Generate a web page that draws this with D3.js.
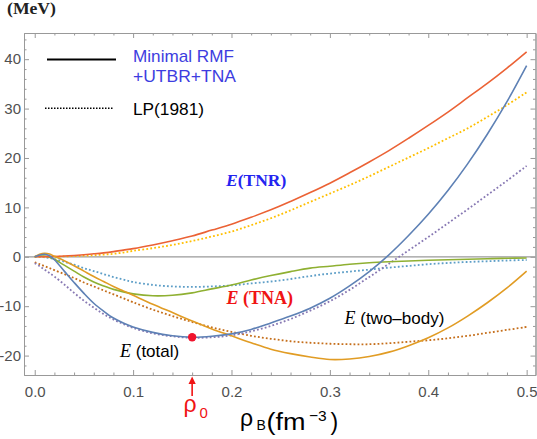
<!DOCTYPE html>
<html>
<head>
<meta charset="utf-8">
<script src="https://cdn.jsdelivr.net/npm/d3@7"></script>
<style>
  body { margin: 0; background: #fff; }
  svg { display: block; }
</style>
</head>
<body>
<svg id="chart" width="537" height="439"></svg>
<script>
// density grid (fm^-3), shared by every curve
const rho = [0, 0.005, 0.01, 0.015, 0.02, 0.03, 0.04, 0.05, 0.06, 0.07, 0.08, 0.09, 0.10,
  0.12, 0.14, 0.16, 0.18, 0.20, 0.22, 0.24, 0.26, 0.28, 0.30, 0.32, 0.34, 0.36, 0.38,
  0.40, 0.42, 0.44, 0.46, 0.48, 0.50];

// Minimal RMF + UTBR + TNA (solid)
const eTotal = [0, 0.35, 0.5, 0.2, -0.6, -2.9, -5.2, -7.4, -9.4, -11.0, -12.4, -13.4, -14.2,
  -15.3, -16.0, -16.3, -16.1, -15.6, -14.7, -13.4, -12.0, -10.4, -8.4, -5.9, -3.0, 0.4, 4.3,
  8.6, 13.4, 18.8, 24.8, 31.4, 38.7];
const eTwoBody = [0, 0.5, 0.7, 0.55, 0.1, -0.8, -1.8, -2.9, -4.0, -5.0, -6.0, -6.9, -7.8,
  -9.6, -11.3, -13.0, -14.6, -16.0, -17.4, -18.7, -19.6, -20.3, -20.8, -20.7, -20.2, -19.3, -18.0,
  -16.4, -14.4, -12.0, -9.3, -6.3, -2.9];
const eTNA = [0, 0.15, 0.15, -0.1, -0.5, -1.7, -2.9, -4.1, -5.1, -5.9, -6.6, -7.1, -7.5,
  -7.9, -7.8, -7.3, -6.5, -5.7, -4.7, -3.8, -3.0, -2.3, -1.9, -1.5, -1.2, -1.0, -0.85,
  -0.7, -0.6, -0.5, -0.4, -0.3, -0.25];
const eTNR = [0, 0, 0.02, 0.04, 0.07, 0.15, 0.27, 0.42, 0.6, 0.8, 1.05, 1.35, 1.65,
  2.4, 3.25, 4.2, 5.4, 6.6, 8.0, 9.5, 11.2, 13.0, 14.9, 17.0, 19.2, 21.5, 24.0,
  26.6, 29.3, 32.2, 35.1, 38.2, 41.5];

// LP (1981) (dotted)
const lpTotal = [-1.3, -1.9, -2.6, -3.3, -4.0, -5.6, -7.3, -8.9, -10.3, -11.6, -12.7, -13.6, -14.4,
  -15.5, -16.1, -16.4, -16.3, -15.9, -15.1, -14.0, -12.6, -10.9, -9.0, -6.7, -4.1, -1.4, 1.3,
  4.0, 6.8, 9.6, 12.5, 15.4, 18.4];
const lpTwoBody = [-1.1, -1.5, -1.9, -2.3, -2.7, -3.5, -4.3, -5.2, -6.0, -6.8, -7.6, -8.4, -9.2,
  -10.7, -12.0, -13.2, -14.3, -15.2, -16.0, -16.6, -17.1, -17.4, -17.6, -17.7, -17.7, -17.5, -17.2,
  -16.9, -16.5, -16.0, -15.4, -14.8, -14.2];
const lpTNA = [0, 0, -0.1, -0.25, -0.45, -1.0, -1.6, -2.3, -2.9, -3.5, -4.1, -4.6, -5.1,
  -5.7, -6.0, -6.1, -6.0, -5.8, -5.4, -5.0, -4.5, -3.9, -3.4, -3.0, -2.6, -2.2, -1.85,
  -1.5, -1.25, -1.05, -0.9, -0.75, -0.65];
const lpTNR = [0, 0, 0.01, 0.02, 0.03, 0.08, 0.14, 0.22, 0.32, 0.45, 0.6, 0.85, 1.2,
  1.75, 2.4, 3.2, 4.1, 5.1, 6.4, 7.8, 9.4, 11.1, 12.8, 14.5, 16.3, 18.2, 20.1,
  22.0, 24.0, 26.0, 28.3, 30.7, 33.3];

const xMajor = [0, 0.1, 0.2, 0.3, 0.4, 0.5];
const yMajor = [-20, -10, 0, 10, 20, 30, 40];
const rho0 = 0.16, eSat = -16.3;

const series = [
  { values: lpTNA, color: "#5D9EC7", dotted: true },
  { values: lpTNR, color: "#FFBF00", dotted: true },
  { values: lpTwoBody, color: "#C56E1A", dotted: true },
  { values: lpTotal, color: "#8778B3", dotted: true },
  { values: eTNA, color: "#8FB032", dotted: false },
  { values: eTNR, color: "#EB6235", dotted: false },
  { values: eTwoBody, color: "#E19C24", dotted: false },
  { values: eTotal, color: "#5E81B5", dotted: false }
];

const svg = d3.select("#chart");
const frameL = 24, frameR = 535.5, frameT = 33, frameB = 375;

const x = d3.scaleLinear().domain([-0.0109, 0.509]).range([frameL, frameR]);
const y = d3.scaleLinear().domain([-23.93, 45.3]).range([frameB, frameT]);

const xMinor = d3.range(0, 0.501, 0.02).filter(v => Math.abs(v * 10 - Math.round(v * 10)) > 1e-6);
const yMinor = d3.range(-22, 45, 2).filter(v => v % 10 !== 0);

const frameColor = "#999";
const labelFont = "'Liberation Sans', Arial, sans-serif";
const serif = "'Liberation Serif', 'Times New Roman', serif";

function styleAxis(g) {
  g.select(".domain").attr("stroke", frameColor);
  g.selectAll(".tick line").attr("stroke", frameColor);
  g.selectAll(".tick text").attr("fill", "#505050").style("font-size", "15px").style("font-family", labelFont);
}

// frame axes: major + minor ticks on all four sides, pointing inward
svg.append("g").attr("transform", `translate(0,${frameB})`)
  .call(d3.axisBottom(x).tickValues(xMinor).tickSize(-2.5).tickSizeOuter(0).tickFormat(""))
  .call(styleAxis);
svg.append("g").attr("transform", `translate(0,${frameB})`)
  .call(d3.axisBottom(x).tickValues(xMajor).tickSize(-5).tickSizeOuter(0).tickPadding(11).tickFormat(d3.format(".1f")))
  .call(styleAxis);
svg.append("g").attr("transform", `translate(0,${frameT})`)
  .call(d3.axisTop(x).tickValues(xMinor).tickSize(-2.5).tickSizeOuter(0).tickFormat(""))
  .call(styleAxis);
svg.append("g").attr("transform", `translate(0,${frameT})`)
  .call(d3.axisTop(x).tickValues(xMajor).tickSize(-5).tickSizeOuter(0).tickFormat(""))
  .call(styleAxis);
svg.append("g").attr("transform", `translate(${frameL},0)`)
  .call(d3.axisLeft(y).tickValues(yMinor).tickSize(-2.5).tickSizeOuter(0).tickFormat(""))
  .call(styleAxis);
svg.append("g").attr("transform", `translate(${frameL},0)`)
  .call(d3.axisLeft(y).tickValues(yMajor).tickSize(-5).tickSizeOuter(0).tickPadding(3).tickFormat(d => String(d)))
  .call(styleAxis);
svg.append("g").attr("transform", `translate(${frameR},0)`)
  .call(d3.axisRight(y).tickValues(yMinor).tickSize(-2.5).tickSizeOuter(0).tickFormat(""))
  .call(styleAxis);
svg.append("g").attr("transform", `translate(${frameR},0)`)
  .call(d3.axisRight(y).tickValues(yMajor).tickSize(-5).tickSizeOuter(0).tickFormat(""))
  .call(styleAxis);

// zero line
svg.append("line")
  .attr("x1", frameL).attr("x2", frameR)
  .attr("y1", y(0)).attr("y2", y(0))
  .attr("stroke", "#9a9a9a").attr("stroke-width", 1.3);

const line = d3.line()
  .x((d, i) => x(rho[i]))
  .y(d => y(d))
  .curve(d3.curveCatmullRom.alpha(0.5));

svg.append("g").selectAll("path")
  .data(series)
  .join("path")
  .attr("d", d => line(d.values))
  .attr("fill", "none")
  .attr("stroke", d => d.color)
  .attr("stroke-width", d => d.dotted ? 1.8 : 1.6)
  .attr("stroke-dasharray", d => d.dotted ? "1.8,2.2" : null);

// saturation point
svg.append("circle")
  .attr("cx", x(rho0)).attr("cy", y(eSat)).attr("r", 4.2)
  .attr("fill", "#f0142d");

// legend
svg.append("line").attr("x1", 47).attr("x2", 116).attr("y1", 59.5).attr("y2", 59.5)
  .attr("stroke", "#000").attr("stroke-width", 2);
svg.append("line").attr("x1", 45).attr("x2", 114).attr("y1", 108.3).attr("y2", 108.3)
  .attr("stroke", "#000").attr("stroke-width", 1.5).attr("stroke-dasharray", "1.5,1.5");
svg.append("text").attr("x", 133).attr("y", 61.7).attr("fill", "#3d3de0")
  .style("font-family", labelFont).style("font-size", "17px")
  .attr("textLength", 101).attr("lengthAdjust", "spacingAndGlyphs").text("Minimal RMF");
svg.append("text").attr("x", 133).attr("y", 81.7).attr("fill", "#3d3de0")
  .style("font-family", labelFont).style("font-size", "17px")
  .attr("textLength", 103).attr("lengthAdjust", "spacingAndGlyphs").text("+UTBR+TNA");
svg.append("text").attr("x", 133).attr("y", 114.5).attr("fill", "#000")
  .style("font-family", labelFont).style("font-size", "17px")
  .attr("textLength", 71).attr("lengthAdjust", "spacingAndGlyphs").text("LP(1981)");

// unit
svg.append("text").attr("x", 7).attr("y", 14).attr("fill", "#222")
  .style("font-family", serif)
  .style("font-size", "16px").style("font-weight", "bold")
  .attr("textLength", 49).attr("lengthAdjust", "spacingAndGlyphs").text("(MeV)");

// curve labels
const tnr = svg.append("text").attr("x", 226).attr("y", 186).attr("fill", "#2424f0")
  .style("font-family", serif).style("font-size", "17.5px").style("font-weight", "bold");
tnr.append("tspan").style("font-style", "italic").text("E");
tnr.append("tspan").text("(TNR)");

const tna = svg.append("text").attr("x", 226.5).attr("y", 304).attr("fill", "#f01414")
  .style("font-family", serif).style("font-size", "18px").style("font-weight", "bold");
tna.append("tspan").style("font-style", "italic").text("E");
tna.append("tspan").text(" (TNA)");

const two = svg.append("text").attr("x", 344.5).attr("y", 323.5).attr("fill", "#000");
two.append("tspan").style("font-family", serif).style("font-style", "italic").style("font-size", "18px").text("E");
two.append("tspan").style("font-family", labelFont).style("font-size", "17px").text(" (two\u2013body)");

const tot = svg.append("text").attr("x", 120).attr("y", 356.5).attr("fill", "#000");
tot.append("tspan").style("font-family", serif).style("font-style", "italic").style("font-size", "18px").text("E");
tot.append("tspan").style("font-family", labelFont).style("font-size", "17px").text(" (total)");

// rho_0 marker
const ax = x(rho0);
svg.append("line").attr("x1", ax).attr("x2", ax).attr("y1", 396).attr("y2", 381)
  .attr("stroke", "#f01414").attr("stroke-width", 1.6);
svg.append("path")
  .attr("d", `M${ax},376.5 L${ax - 3.6},384 L${ax + 3.6},384 Z`)
  .attr("fill", "#f01414");
svg.append("text").attr("x", 183.5).attr("y", 411.5).attr("fill", "#f01414")
  .style("font-family", labelFont).style("font-size", "23px").text("\u03c1");
svg.append("text").attr("x", 199.5).attr("y", 418).attr("fill", "#f01414")
  .style("font-family", labelFont).style("font-size", "15px").text("0");

// x axis title
svg.append("text").attr("x", 240).attr("y", 426).attr("fill", "#000")
  .style("font-family", labelFont).style("font-size", "23px").text("\u03c1");
svg.append("text").attr("x", 256.5).attr("y", 430).attr("fill", "#000")
  .style("font-family", labelFont).style("font-size", "14px").text("B");
svg.append("text").attr("x", 266.5).attr("y", 430).attr("fill", "#000")
  .style("font-family", labelFont).style("font-size", "23px")
  .attr("textLength", 39).attr("lengthAdjust", "spacingAndGlyphs").text("(fm");
svg.append("text").attr("x", 309).attr("y", 420.5).attr("fill", "#000")
  .style("font-family", labelFont).style("font-size", "15.5px").text("\u22123");
svg.append("text").attr("x", 330.5).attr("y", 430).attr("fill", "#000")
  .style("font-family", labelFont).style("font-size", "23px").text(")");
</script>
</body>
</html>
